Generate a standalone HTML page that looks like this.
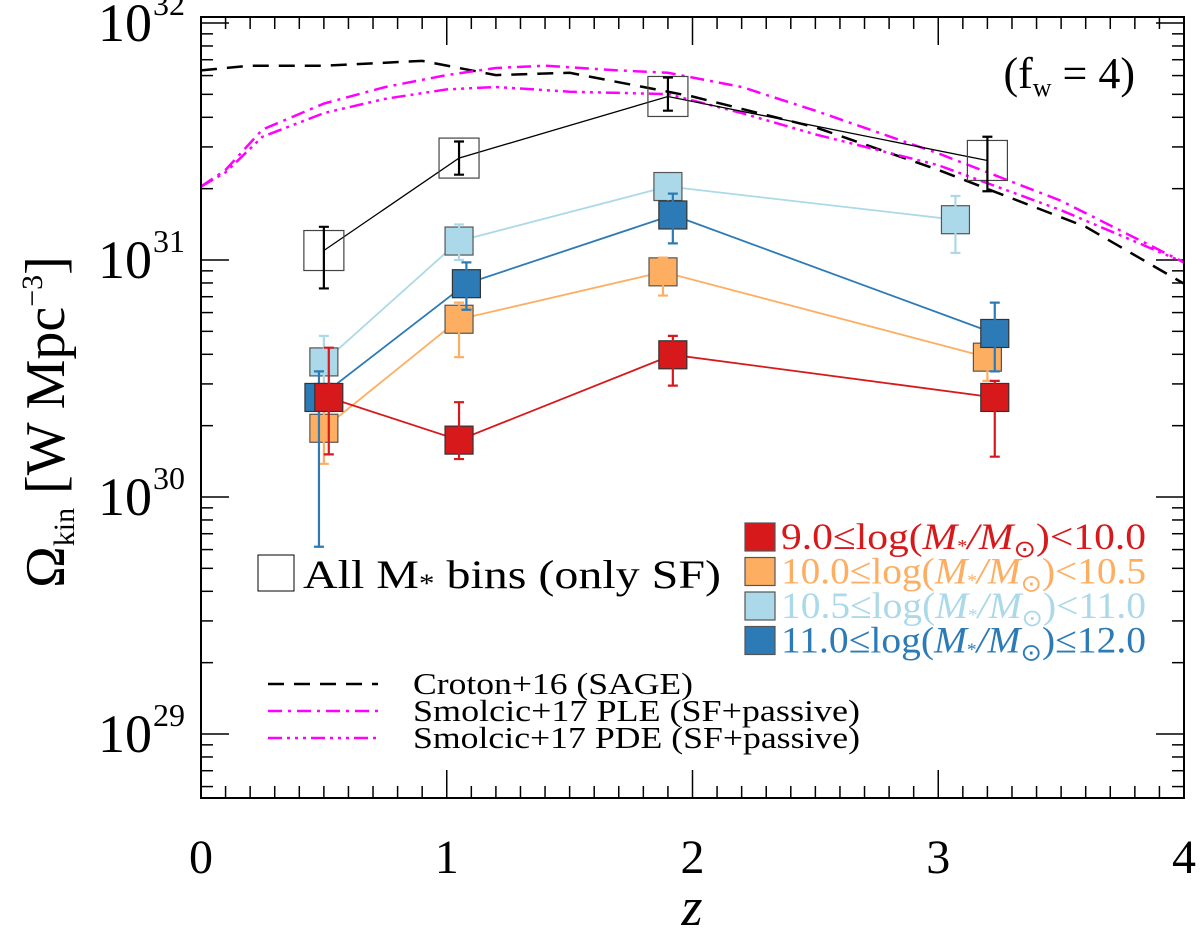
<!DOCTYPE html>
<html><head><meta charset="utf-8"><style>
body{margin:0;background:#fff;}
svg{display:block;font-family:"Liberation Serif",serif;}
</style></head><body>
<svg id="chart" width="1200" height="937" viewBox="0 0 1200 937" xmlns="http://www.w3.org/2000/svg">
<g id="grid"></g>
<g id="curves"></g>
<g id="series"></g>
<rect x="201" y="17" width="983" height="781" fill="none" stroke="#000" stroke-width="2"/>
<text x="1135" y="88" font-size="44" text-anchor="end">(f<tspan font-size="26" dy="8">w</tspan><tspan dy="-8"> = 4)</tspan></text>
<text x="692" y="925" font-size="54" font-style="italic" text-anchor="middle">z</text>
<text transform="translate(64,422) rotate(-90)" font-size="56" text-anchor="middle">Ω<tspan font-size="30" dy="10">kin</tspan><tspan dy="-10"> [W Mpc</tspan><tspan font-size="30" dy="-22">−3</tspan><tspan dy="22">]</tspan></text>
<g>
<rect x="258" y="555" width="36" height="36" fill="none" stroke="#000" stroke-width="1"/>
<text x="303" y="588" font-size="40" textLength="418" lengthAdjust="spacingAndGlyphs">All M<tspan font-size="26" dy="4">*</tspan><tspan dy="-4"> bins (only SF)</tspan></text>
</g>
<g id="legend-mass"></g>
<g id="legend-lines"></g>
</svg>
<script>
const NS="http://www.w3.org/2000/svg";
const zPts=[0.5,1.05,1.9,3.2];
const allBins=[31.04,31.43,31.69,31.42];
const allLo=[30.88,31.36,31.63,31.29];
const allHi=[31.14,31.50,31.77,31.52];
const redVals=[30.42,30.24,30.60,30.42];
const redLo=[30.18,30.16,30.47,30.17];
const redHi=[30.63,30.40,30.68,30.49];
const orangeVals=[30.29,30.75,30.95,30.59];
const orangeLo=[30.14,30.59,30.85,30.49];
const orangeHi=[30.42,30.82,31.01,30.68];
const lblueVals=[30.57,31.08,31.31,31.17];
const lblueLo=[30.42,31.00,31.20,31.03];
const lblueHi=[30.68,31.15,31.36,31.27];
const dblueVals=[30.42,30.90,31.19,30.69];
const dblueLo=[29.79,30.79,31.07,30.53];
const dblueHi=[30.53,30.99,31.28,30.82];
const redZ=[0.52,1.05,1.92,3.23];
const orangeZ=[0.5,1.05,1.88,3.2];
const lblueZ=[0.5,1.05,1.9,3.07];
const dblueZ=[0.48,1.08,1.92,3.23];
const crotonZ=[0,0.1,0.2,0.5,0.9,1.2,1.5,1.8,2.0,2.5,3.0,3.2,3.6,4.0];
const crotonV=[31.80,31.81,31.82,31.82,31.84,31.78,31.79,31.73,31.69,31.56,31.38,31.30,31.14,30.90];
const pleZ=[0,0.1,0.25,0.5,0.75,1.0,1.2,1.4,1.7,1.9,2.2,2.5,3.0,3.5,4.0];
const pleV=[31.31,31.38,31.55,31.66,31.73,31.78,31.81,31.82,31.80,31.79,31.73,31.63,31.45,31.25,30.99];
const pdeZ=[0,0.1,0.25,0.5,0.75,1.0,1.2,1.5,1.9,2.2,2.5,3.0,3.5,4.0];
const pdeV=[31.31,31.37,31.52,31.62,31.68,31.72,31.73,31.71,31.70,31.62,31.53,31.40,31.21,30.99];
const xTicks=[0,1,2,3,4];
const yTicks=[29,30,31,32];
const X=z=>201+245.75*z;
const Y=l=>23+(32-l)*237;
function el(t,a,p){const e=document.createElementNS(NS,t);for(const k in a)e.setAttribute(k,a[k]);(p||document.getElementById('chart')).appendChild(e);return e;}
const grid=document.getElementById('grid');
for(let i=0;i<=40;i++){const z=i/10,x=X(z),maj=i%10===0,len=maj?28:12;
 const t1=el('line',{x1:x,x2:x,y1:798,y2:798-len,stroke:'#000','stroke-width':1.5},grid);
 
 el('line',{x1:x,x2:x,y1:17,y2:17+len,stroke:'#000','stroke-width':1.5},grid);}
xTicks.forEach(z=>{const t=el('text',{x:X(z),y:873,'font-size':48,'text-anchor':'middle'},grid);t.textContent=z;
 });
for(let d=28;d<=32;d++){for(let m=1;m<=9;m++){const l=d+Math.log10(m);if(l<28.73||l>32.03)continue;const y=Y(l),len=m===1?28:12;
 const t=el('line',{x1:201,x2:201+len,y1:y,y2:y,stroke:'#000','stroke-width':1.5},grid);
 
 el('line',{x1:1184,x2:1184-len,y1:y,y2:y,stroke:'#000','stroke-width':1.5},grid);}}
yTicks.forEach(l=>{const t=el('text',{x:152,y:Y(l)+18,'font-size':54,'text-anchor':'end'},grid);t.textContent='10';
 
 const s=el('text',{x:153,y:Y(l)-8,'font-size':32},grid);s.textContent=l;});
const curves=document.getElementById('curves');
function path(zs,vs){return zs.map((z,i)=>(i?'L':'M')+X(z).toFixed(1)+','+Y(vs[i]).toFixed(1)).join(' ');}
const c1=el('path',{d:path(crotonZ,crotonV),fill:'none',stroke:'#000','stroke-width':2.5,'stroke-dasharray':'16,10'},curves);

const c2=el('path',{d:path(pleZ,pleV),fill:'none',stroke:'#f0f','stroke-width':2.5,'stroke-dasharray':'14,6,3,6'},curves);

const c3=el('path',{d:path(pdeZ,pdeV),fill:'none',stroke:'#f0f','stroke-width':2.5,'stroke-dasharray':'14,5,3,5,3,5,3,5'},curves);

const ser=document.getElementById('series');
function series(name,zs,vs,lo,hi,col,fill,boxStroke,lw,bs){
 const g=el('g',{},ser);
 el('path',{d:path(zs,vs),fill:'none',stroke:col,'stroke-width':lw},g);
 zs.forEach((z,i)=>{const x=X(z);
  const b=el('rect',{x:x-bs/2,y:Y(vs[i])-bs/2,width:bs,height:bs,fill:fill,stroke:boxStroke,'stroke-width':1.2},g);
  
  const eb=el('path',{d:`M${x},${Y(lo[i])}V${Y(hi[i])}M${x-5},${Y(lo[i])}H${x+5}M${x-5},${Y(hi[i])}H${x+5}`,stroke:col,'stroke-width':2.2,fill:'none'},g);
  });}
series('all-bins-series',zPts,allBins,allLo,allHi,'#000','none','#444',1.3,40);
series('mass-bin-10p5-11',lblueZ,lblueVals,lblueLo,lblueHi,'#abd9e9','#abd9e9','#555',1.8,28);
series('mass-bin-10-10p5',orangeZ,orangeVals,orangeLo,orangeHi,'#fdae61','#fdae61','#555',1.8,28);
series('mass-bin-11-12',dblueZ,dblueVals,dblueLo,dblueHi,'#2c7bb6','#2c7bb6','#333',1.8,28);
series('mass-bin-9-10',redZ,redVals,redLo,redHi,'#d7191c','#d7191c','#333',1.8,28);
const lm=document.getElementById('legend-mass');
const lab=[['9.0','<10.0','#d7191c',365],['10.0','<10.5','#fdae61',365],['10.5','<11.0','#abd9e9',365],['11.0','≤12.0','#2c7bb6',365]];
lab.forEach((r,i)=>{const y=520+i*34.5;
 const g=el('g',{},lm);
 el('rect',{x:745,y:y+3,width:30,height:28,fill:r[2],stroke:'#555','stroke-width':1.2},g);
 const t=el('text',{x:781,y:y+29,'font-size':37,fill:r[2],textLength:r[3],lengthAdjust:'spacingAndGlyphs'},g);
 t.innerHTML=r[0]+'≤log(<tspan font-style="italic">M</tspan><tspan font-size="18" dy="3">*</tspan><tspan dy="-3" font-style="italic">/M</tspan><tspan font-size="24" dy="8">⊙</tspan><tspan dy="-8">)'+r[1].replace('<','&lt;')+'</tspan>';});
const ll=document.getElementById('legend-lines');
[['Croton+16 (SAGE)','#000','16,10',280],['Smolcic+17 PLE (SF+passive)','#f0f','14,6,3,6',447],['Smolcic+17 PDE (SF+passive)','#f0f','14,5,3,5,3,5,3,5',447]].forEach((r,i)=>{const y=684+i*27;
 const g=el('g',{},ll);
 el('line',{x1:268,x2:378,y1:y,y2:y,stroke:r[1],'stroke-width':2.5,'stroke-dasharray':r[2]},g);
 const t=el('text',{x:413,y:y+10,'font-size':31,textLength:r[3],lengthAdjust:'spacingAndGlyphs'},g);t.textContent=r[0];});
</script>
</body></html>
